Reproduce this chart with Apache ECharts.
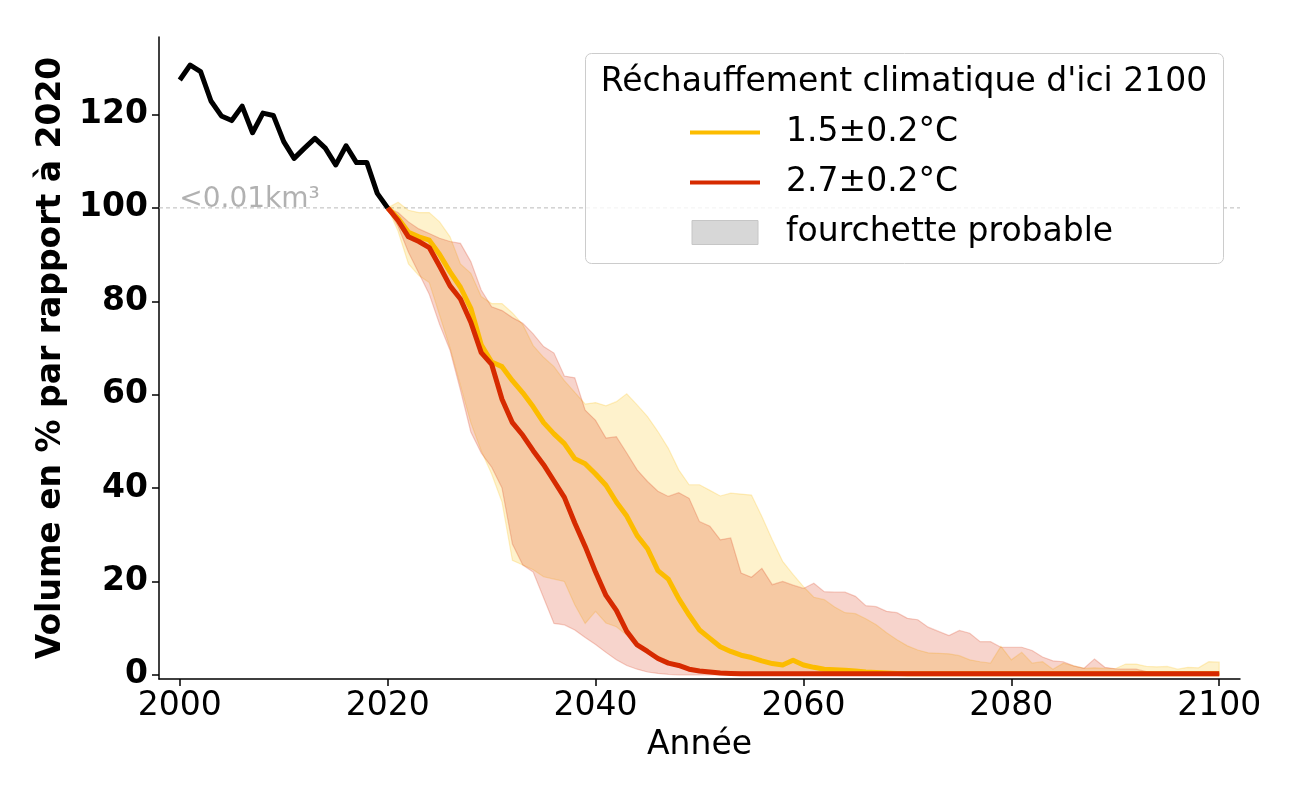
<!DOCTYPE html>
<html>
<head>
<meta charset="utf-8">
<script src="https://cdn.jsdelivr.net/npm/echarts@6/dist/echarts.min.js"></script>
<style>html,body{margin:0;padding:0;background:#fff;}#c{width:1300px;height:800px;}</style>
</head>
<body>
<div id="c"></div>
<script>
// ---------- DATA ----------
const histYears = [2000,2001,2002,2003,2004,2005,2006,2007,2008,2009,2010,2011,2012,2013,2014,2015,2016,2017,2018,2019,2020];
const histValues = [127.4,130.6,129.2,122.9,119.7,118.7,121.8,116.1,120.3,119.8,114.2,110.6,112.8,114.9,112.8,109.2,113.3,109.7,109.7,103.1,100];

const projYears = [2020,2021,2022,2023,2024,2025,2026,2027,2028,2029,
  2030,2031,2032,2033,2034,2035,2036,2037,2038,2039,
  2040,2041,2042,2043,2044,2045,2046,2047,2048,2049,
  2050,2051,2052,2053,2054,2055,2056,2057,2058,2059,
  2060,2061,2062,2063,2064,2065,2066,2067,2068,2069,
  2070,2071,2072,2073,2074,2075,2076,2077,2078,2079,
  2080,2081,2082,2083,2084,2085,2086,2087,2088,2089,
  2090,2091,2092,2093,2094,2095,2096,2097,2098,2099,2100];

// 1.5±0.2°C scenario
const med15 = [100,97.8,94.8,93.8,93.1,90.0,86.3,83.0,78.5,70.7,
  67.0,66.0,63.0,60.4,57.4,54.0,51.6,49.5,46.3,45.2,
  43.0,40.6,37.0,34.0,29.8,27.0,22.3,20.5,16.3,12.8,
  9.6,7.8,6.0,5.0,4.2,3.7,3.0,2.4,2.1,3.1,
  2.1,1.6,1.2,1.1,1.0,0.8,0.6,0.5,0.4,0.3,
  0.2,0.2,0.2,0.2,0.2,0.2,0.2,0.2,0.2,0.2,
  0.2,0.2,0.2,0.2,0.2,0.2,0.2,0.2,0.2,0.2,
  0.2,0.2,0.2,0.2,0.2,0.2,0.2,0.2,0.2,0.2,0.2];
const hi15 = [100,101.2,99.5,99,99,97,93.8,88,86,81,
  79.5,79.5,77.5,75,70.5,68,66,63,60.5,58,
  58.3,57.6,58.5,60.2,57.8,55.3,52.1,48.5,43.9,40.7,
  40.7,39.5,38.3,38.9,38.7,38.5,33.9,28.9,24.3,21.5,
  18.9,16.6,16.1,14.5,13.3,13.1,12,10.7,9,7.5,
  6.2,5.3,4.7,4.6,4.5,4.1,3.2,2.8,2.5,6.1,
  3.2,4.8,2.5,2.8,1.2,2.5,1.9,1.4,1.5,1.4,
  1.3,2.3,2.3,1.8,1.7,1.8,1.2,1.6,1.5,2.8,2.7];
const lo15 = [100,95,88,85.5,84,77,70,62,54,48,
  43,37,24.5,23.5,22.5,21,20.5,20,15,11,
  13.6,11.1,10.3,8.5,6,5,4,3,2.2,1.5,
  1,0.6,0.4,0.2,0,0,0,0,0,0,
  0,0,0,0,0,0,0,0,0,0,
  0,0,0,0,0,0,0,0,0,0,
  0,0,0,0,0,0,0,0,0,0,
  0,0,0,0,0,0,0,0,0,0,0];

// 2.7±0.2°C scenario
const med27 = [100,97.3,93.8,92.8,91.5,87.5,83.3,80.5,75.5,69.0,
  66.5,59.0,54.0,51.3,48.0,45.0,41.5,38.0,32.5,27.5,
  22.0,17.0,13.8,9.3,6.4,5.0,3.5,2.5,2.0,1.2,
  0.8,0.6,0.4,0.3,0.2,0.2,0.2,0.2,0.2,0.2,
  0.2,0.2,0.2,0.2,0.2,0.2,0.2,0.2,0.2,0.2,
  0.2,0.2,0.2,0.2,0.2,0.2,0.2,0.2,0.2,0.2,
  0.2,0.2,0.2,0.2,0.2,0.2,0.2,0.2,0.2,0.2,
  0.2,0.2,0.2,0.2,0.2,0.2,0.2,0.2,0.2,0.2,0.2];
const hi27 = [100,99,97,95.5,94.5,93.5,92.8,92.4,88.5,82.4,
  78.8,78,76.5,75.3,73,70.3,68.9,64,63.6,56.7,
  54.5,50.7,51,47.5,43.9,41.4,39.3,38.2,39,37.8,
  32.8,31.8,28.9,29.3,21.8,20.9,22.8,19.3,20,19.2,
  18.5,19.6,17.8,17.7,17.7,16.8,14.8,14.6,13.6,13.3,
  12.1,11.8,10.2,9.3,8.4,9.5,8.9,7.1,7.1,5.9,
  5.9,5.9,5.2,3.8,3.0,2.8,1.9,1.4,3.4,1.6,
  1.3,1.2,1.2,0.7,0.4,0.3,0.3,0.3,0.3,0.3,0.3];
const lo27 = [100,96,90.5,86,81.5,75,69.5,61,52,47.5,
  44.5,40,28,23.5,22,16.5,11,10.7,9.6,8,
  6.5,4.8,3.2,2,1.2,0.6,0.3,0.1,0,0,
  0,0,0,0,0,0,0,0,0,0,
  0,0,0,0,0,0,0,0,0,0,
  0,0,0,0,0,0,0,0,0,0,
  0,0,0,0,0,0,0,0,0,0,
  0,0,0,0,0,0,0,0,0,0,0];

const xTicks = [2000,2020,2040,2060,2080,2100];
const yTicks = [0,20,40,60,80,100,120];
const refLevel = 100;
const refLabel = '<0.01km³';
const name15 = '1.5±0.2°C';
const name27 = '2.7±0.2°C';
const nameBand = 'fourchette probable';
const legendTitle = "Réchauffement climatique d'ici 2100";

// ---------- CHART ----------
const YELLOW = '#fcbc00';
const RED = '#d62a00';
const FONT = 'DejaVu Sans';

function pairs(xs, ys) { return xs.map((x, i) => [x, ys[i]]); }

function bandSeries(id, hi, lo, fill, stroke, z) {
  return {
    type: 'custom', id: id, name: id, z: z, silent: true,
    data: projYears.map((y, i) => [y, lo[i], hi[i]]),
    encode: { x: 0, y: [1, 2] },
    renderItem: function (params, api) {
      if (params.dataIndex !== 0) return null;
      const pts = [];
      for (let i = 0; i < projYears.length; i++) pts.push(api.coord([projYears[i], hi[i]]));
      for (let i = projYears.length - 1; i >= 0; i--) pts.push(api.coord([projYears[i], lo[i]]));
      return { type: 'polygon', shape: { points: pts }, style: { fill: fill, stroke: stroke, lineWidth: 1.2 } };
    }
  };
}

const chart = echarts.init(document.getElementById('c'), null, { renderer: 'canvas' });
chart.setOption({
  animation: false,
  backgroundColor: '#ffffff',
  grid: { left: 159, right: 60, top: 37, bottom: 121, containLabel: false, outerBoundsMode: 'none' },
  xAxis: {
    type: 'value', min: 1998, max: 2102,
    name: 'Année', nameLocation: 'middle', nameGap: 50,
    nameTextStyle: { fontSize: 33, fontFamily: FONT, color: '#000' },
    axisLine: { show: true, onZero: false, lineStyle: { color: '#000', width: 1.5 } },
    axisTick: { show: true, inside: false, length: 7, lineStyle: { color: '#000', width: 1.5 }, customValues: xTicks },
    axisLabel: { show: true, fontSize: 33, fontFamily: FONT, color: '#000', margin: 11, customValues: xTicks,
      formatter: function (v) { return String(v); } },
    splitLine: { show: false }
  },
  yAxis: {
    type: 'value', min: -0.9, max: 136.6,
    name: 'Volume en % par rapport à 2020', nameLocation: 'middle', nameGap: 90,
    nameTextStyle: { fontSize: 33, fontFamily: FONT, fontWeight: 'bold', color: '#000' },
    axisLine: { show: true, onZero: false, lineStyle: { color: '#000', width: 1.5 } },
    axisTick: { show: true, inside: false, length: 7, lineStyle: { color: '#000', width: 1.5 }, customValues: yTicks },
    axisLabel: { show: true, fontSize: 33, fontFamily: FONT, fontWeight: 'bold', color: '#000', margin: 11, customValues: yTicks,
      formatter: function (v) { return String(v); } },
    splitLine: { show: false }
  },
  legend: {
    show: true, orient: 'vertical', left: 585, top: 53, z: 10,
    padding: [63, 20, 15, 105],
    itemWidth: 70, itemHeight: 24, itemGap: 17, symbolKeepAspect: true,
    selectedMode: false,
    textStyle: { fontSize: 33, fontFamily: FONT, color: '#000', padding: [0, 0, 0, 21] },
    data: [
      { name: name15, icon: 'path://M0 0H70V4H0Z', itemStyle: { color: YELLOW, borderWidth: 0 } },
      { name: name27, icon: 'path://M0 0H70V4H0Z', itemStyle: { color: RED, borderWidth: 0 } },
      { name: nameBand, icon: 'path://M0 0H66V24H0Z', itemStyle: { color: '#d7d7d7', borderColor: '#c6c6c6', borderWidth: 1 } }
    ]
  },
  graphic: [
    { type: 'rect', z: 9, silent: true,
      shape: { x: 585.5, y: 53.5, width: 638, height: 210, r: 6 },
      style: { fill: 'rgba(255,255,255,0.8)', stroke: '#cccccc', lineWidth: 1 } },
    { type: 'text', z: 11, silent: true,
      style: { x: 904, y: 82, text: legendTitle, fontSize: 33, fontFamily: FONT, fill: '#000', align: 'center', verticalAlign: 'middle' } }
  ],
  series: [
    { type: 'line', name: 'ref', z: 1, silent: true, symbol: 'none',
      data: [[1998, refLevel], [2102, refLevel]],
      lineStyle: { color: '#bbbbbb', width: 1, type: [4, 3] } },
    { type: 'scatter', name: 'refText', z: 1, silent: true, symbolSize: 1,
      itemStyle: { color: 'rgba(0,0,0,0)' },
      data: [[2000, refLevel]],
      label: { show: true, formatter: refLabel, position: [0, 6], align: 'left', verticalAlign: 'bottom',
        fontSize: 28, fontFamily: FONT, color: '#9e9e9e' } },
    bandSeries('band15', hi15, lo15, 'rgba(252,188,0,0.2)', 'rgba(252,188,0,0.22)', 2),
    bandSeries('band27', hi27, lo27, 'rgba(214,42,0,0.2)', 'rgba(214,42,0,0.22)', 2),
    { type: 'line', name: nameBand, data: [], symbol: 'none', itemStyle: { color: '#d7d7d7' } },
    { type: 'line', name: name15, z: 3, symbol: 'none', showSymbol: false,
      data: pairs(projYears, med15), itemStyle: { color: YELLOW },
      lineStyle: { color: YELLOW, width: 5, join: 'round' } },
    { type: 'line', name: name27, z: 4, symbol: 'none', showSymbol: false,
      data: pairs(projYears, med27), itemStyle: { color: RED },
      lineStyle: { color: RED, width: 5, join: 'round' } },
    { type: 'line', name: 'historique', z: 5, symbol: 'none', showSymbol: false,
      data: pairs(histYears, histValues), itemStyle: { color: '#000' },
      lineStyle: { color: '#000', width: 5, join: 'round' } }
  ]
});
</script>
</body>
</html>
